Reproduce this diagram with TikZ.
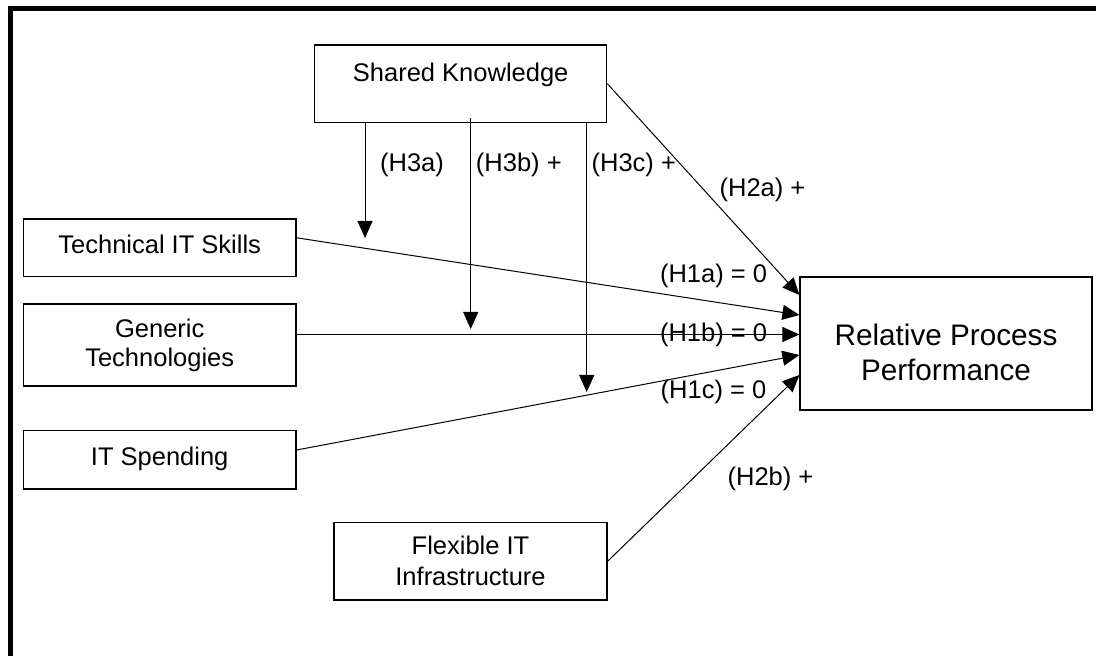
\documentclass[tikz,border=0pt]{standalone}
\usepackage{fontspec}
\setmainfont{Liberation Sans}
\usetikzlibrary{arrows.meta,calc}

\begin{document}
\begin{tikzpicture}[x=0.5pt, y=-0.5pt,
  box/.style={shape=rectangle, draw=black, line width=0.6pt, inner sep=0pt, align=center, font=\fontsize{12.75}{14.5}\selectfont},
  hyp/.style={line width=0.5pt, -{Triangle[length=8.5pt, width=7.5pt]}},
  lbl/.style={anchor=base, inner sep=0pt, font=\fontsize{12.75}{14.5}\selectfont}]
\useasboundingbox (0,0) rectangle (1096,656);
\draw[line width=2.5pt] (10,656) -- (10,9) -- (1096,9);
\node[box, minimum width=146pt, minimum height=38.65pt, text depth=11.4pt] (sk) at (460.7,83.7) {Shared Knowledge};
\node[box, minimum width=136.35pt, minimum height=28.85pt, text depth=3.8pt] (tech) at (159.7,247.8) {Technical IT Skills};
\node[box, minimum width=136.35pt, minimum height=41pt] (gen) at (159.7,345) {Generic\\Technologies};
\node[box, minimum width=136.35pt, minimum height=29.15pt, text depth=3.8pt] (spend) at (159.7,459.8) {IT Spending};
\node[box, minimum width=136.5pt, minimum height=38.65pt] (flex) at (470.5,561.3) {Flexible IT\\[1pt]Infrastructure};
\node[box, minimum width=146pt, minimum height=66.5pt, font=\fontsize{14.85}{17.5}\selectfont] (rpp) at (946,343.5) {\rule{0pt}{19.7pt}Relative Process\\Performance};
\node[lbl] (lh3a) at (412,172) {(H3a)};
\node[lbl] (lh3b) at (518.8,172) {(H3b) +};
\node[lbl] (lh3c) at (633.8,172) {(H3c) +};
\node[lbl] (lh2a) at (762.5,197) {(H2a) +};
\node[lbl] (lh1a) at (713.5,283) {(H1a) = 0};
\node[lbl] (lh1b) at (713.5,341.5) {(H1b) = 0};
\node[lbl] (lh1c) at (713.5,399) {(H1c) = 0};
\node[lbl] (lh2b) at (770.5,486) {(H2b) +};
\coordinate (m3a) at (365,238);
\coordinate (m3b) at (470.7,329);
\coordinate (m3c) at (586.7,392);
\path[hyp] (sk.south -| m3a) edge (m3a);
\path[hyp] ($(sk.south -| m3b)+(0,-5)$) edge (m3b);
\path[hyp] (sk.south -| m3c) edge (m3c);
\path[hyp] (sk.east) edge ([yshift=24.25pt]rpp.west);
\path[hyp] ([yshift=5pt]tech.east) edge ([yshift=14.25pt]rpp.west);
\path[hyp] ([yshift=5.25pt]gen.east) edge ([yshift=4.5pt]rpp.west);
\path[hyp] ([yshift=4.9pt]spend.east) edge ([yshift=-5.75pt]rpp.west);
\path[hyp] (flex.east) edge ([yshift=-15.75pt]rpp.west);
\end{tikzpicture}
\end{document}
